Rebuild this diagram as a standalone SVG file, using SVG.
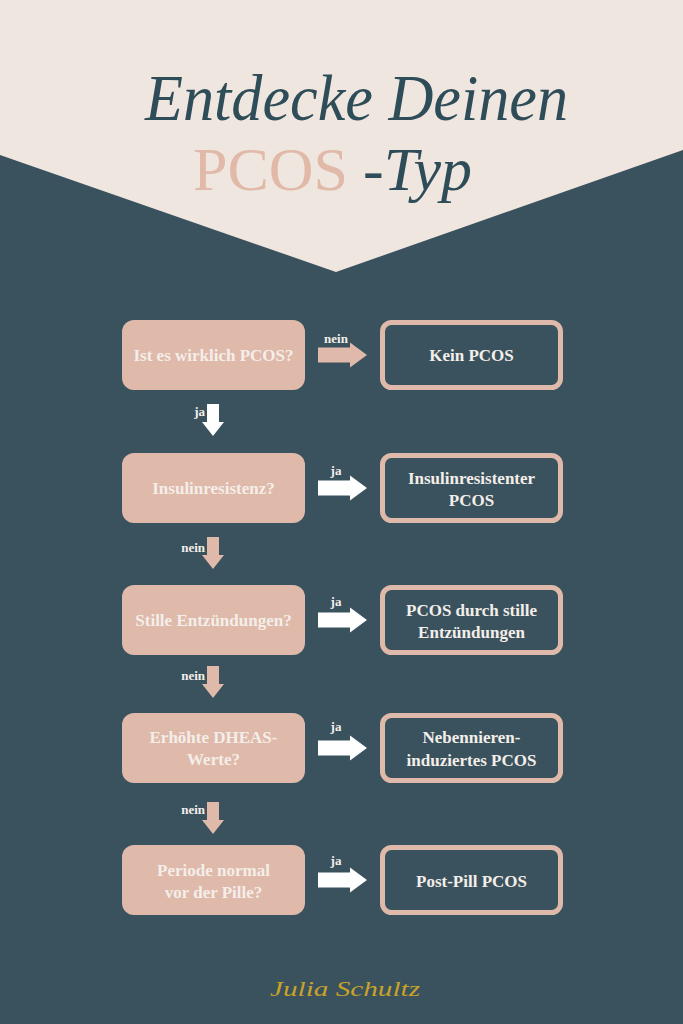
<svg xmlns="http://www.w3.org/2000/svg" xmlns:xlink="http://www.w3.org/1999/xlink" width="683" height="1024" viewBox="0 0 683 1024">
<style>
.q{fill:#dfb9a9;}
.r{fill:#3a525d;stroke:#dfb9a9;stroke-width:5;}
.t{font-family:"Liberation Serif","DejaVu Serif",serif;font-weight:bold;font-size:17px;fill:#f4eeea;text-anchor:middle;}
.l{font-family:"Liberation Serif","DejaVu Serif",serif;font-weight:bold;font-size:13px;fill:#f4eeea;}
.ttl{font-family:"Liberation Serif","DejaVu Serif",serif;font-style:italic;fill:#2f4d58;}
.w{fill:#ffffff;}
</style>
<defs>
<path id="ha" d="M0,-7.5 H32 V-12.5 L49,0 L32,12.5 V7.5 H0 Z"/>
<path id="va" d="M-6,0 H6 V18 H11 L0,32 L-11,18 H-6 Z"/>
</defs>
<rect width="683" height="1024" fill="#3a525d"/>
<polygon points="0,0 683,0 683,150 336,272 0,155" fill="#f0e6e0"/>
<g id="title">
<text class="ttl" x="145" y="120" font-size="66" textLength="423" lengthAdjust="spacingAndGlyphs">Entdecke Deinen</text>
<text x="193" y="190" font-family="Liberation Serif, DejaVu Serif, serif" font-size="62" fill="#e0b9a8" textLength="155" lengthAdjust="spacingAndGlyphs">PCOS</text>
<text class="ttl" x="363" y="190" font-size="62" textLength="109" lengthAdjust="spacingAndGlyphs">-Typ</text>
</g>
<g id="connectors">
<use xlink:href="#ha" x="318" y="355" class="q"/>
<use xlink:href="#ha" x="318" y="488" class="w"/>
<use xlink:href="#ha" x="318" y="620" class="w"/>
<use xlink:href="#ha" x="318" y="748" class="w"/>
<use xlink:href="#ha" x="318" y="880" class="w"/>
<use xlink:href="#va" x="213" y="404" class="w"/>
<use xlink:href="#va" x="213" y="537" class="q"/>
<use xlink:href="#va" x="213" y="666" class="q"/>
<use xlink:href="#va" x="213" y="802" class="q"/>
<text class="l" x="336" y="343" text-anchor="middle">nein</text>
<text class="l" x="336" y="475" text-anchor="middle">ja</text>
<text class="l" x="336" y="606" text-anchor="middle">ja</text>
<text class="l" x="336" y="731" text-anchor="middle">ja</text>
<text class="l" x="336" y="865" text-anchor="middle">ja</text>
<text class="l" x="205" y="416" text-anchor="end">ja</text>
<text class="l" x="205" y="552" text-anchor="end">nein</text>
<text class="l" x="205" y="680" text-anchor="end">nein</text>
<text class="l" x="205" y="814" text-anchor="end">nein</text>
</g>
<g id="q1"><rect class="q" x="122" y="320" width="183" height="70" rx="12"/><text class="t" x="213.5" y="361">Ist es wirklich PCOS?</text></g>
<g id="q2"><rect class="q" x="122" y="453" width="183" height="70" rx="12"/><text class="t" x="213.5" y="494">Insulinresistenz?</text></g>
<g id="q3"><rect class="q" x="122" y="585" width="183" height="70" rx="12"/><text class="t" x="213.5" y="626">Stille Entzündungen?</text></g>
<g id="q4"><rect class="q" x="122" y="713" width="183" height="70" rx="12"/><text class="t" x="213.5" y="743">Erhöhte DHEAS-</text><text class="t" x="213.5" y="765">Werte?</text></g>
<g id="q5"><rect class="q" x="122" y="845" width="183" height="70" rx="12"/><text class="t" x="213.5" y="876">Periode normal</text><text class="t" x="213.5" y="898">vor der Pille?</text></g>
<g id="a1"><rect class="r" x="382.5" y="322.5" width="178" height="65" rx="9"/><text class="t" x="471.5" y="361">Kein PCOS</text></g>
<g id="a2"><rect class="r" x="382.5" y="455.5" width="178" height="65" rx="9"/><text class="t" x="471.5" y="484">Insulinresistenter</text><text class="t" x="471.5" y="506">PCOS</text></g>
<g id="a3"><rect class="r" x="382.5" y="587.5" width="178" height="65" rx="9"/><text class="t" x="471.5" y="616">PCOS durch stille</text><text class="t" x="471.5" y="638">Entzündungen</text></g>
<g id="a4"><rect class="r" x="382.5" y="715.5" width="178" height="65" rx="9"/><text class="t" x="471.5" y="743">Nebennieren-</text><text class="t" x="471.5" y="766">induziertes PCOS</text></g>
<g id="a5"><rect class="r" x="382.5" y="847.5" width="178" height="65" rx="9"/><text class="t" x="471.5" y="887">Post-Pill PCOS</text></g>
<text x="345" y="996" font-family="Liberation Serif, DejaVu Serif, serif" font-style="italic" font-size="22" fill="#c8a22a" text-anchor="middle" textLength="150" lengthAdjust="spacingAndGlyphs">Julia Schultz</text>
</svg>
